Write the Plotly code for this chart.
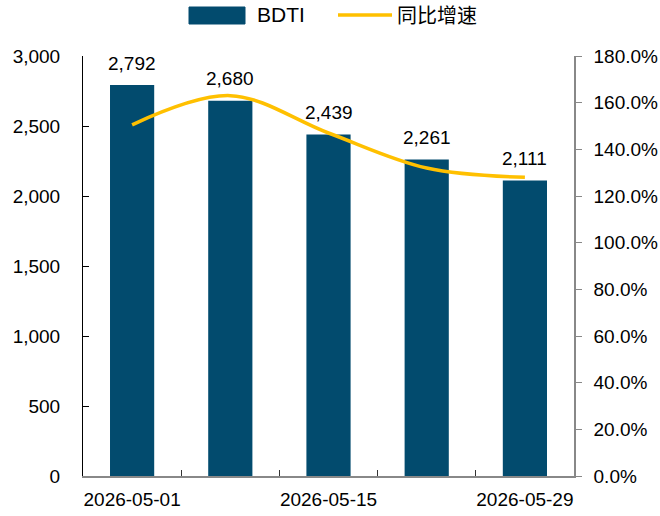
import plotly.graph_objects as go

dates = ['2026-05-01', '2026-05-08', '2026-05-15', '2026-05-22', '2026-05-29']
bdti = [2792, 2680, 2439, 2261, 2111]
yoy = [150.5, 163.0, 147.0, 132.0, 128.0]  # 同比增速, %

xs = list(range(len(dates)))
font = 'Liberation Sans, Arial, sans-serif'
cjk = 'Noto Sans CJK SC, sans-serif'
W, H = 660, 516
L, R, T, B = 83, 86, 56, 40

def px_x(p):
    return (p - L) / (W - L - R)

def px_y(p):
    return 1 - (p - T) / (H - T - B)

fig = go.Figure()
fig.add_trace(go.Bar(
    x=xs, y=bdti, name='BDTI', width=0.45,
    marker=dict(color='#024B6E', line=dict(width=0)),
    showlegend=False,
))
fig.add_trace(go.Scatter(
    x=xs, y=yoy, name='同比增速', yaxis='y2', mode='lines',
    line=dict(color='#FFC000', width=3.5, shape='spline', smoothing=1),
    showlegend=False,
))
# dummy trace so that xaxis3 is drawn
fig.add_trace(go.Scatter(x=[xs[0]], y=[None], xaxis='x3', showlegend=False, hoverinfo='skip'))

# data labels
for x, v in zip(xs, bdti):
    fig.add_annotation(x=x, y=v, text=f'{v:,}', showarrow=False, yshift=22,
                       font=dict(size=19, color='black', family=font))

# custom legend
fig.add_shape(type='rect', xref='paper', yref='paper',
              x0=px_x(189), x1=px_x(245), y0=px_y(24), y1=px_y(7),
              fillcolor='#024B6E', line=dict(color='#024B6E', width=1))
fig.add_annotation(xref='paper', yref='paper', x=px_x(255), y=px_y(15),
                   xanchor='left', yanchor='middle', showarrow=False, text='BDTI',
                   font=dict(size=21, family=font, color='black'))
fig.add_shape(type='line', xref='paper', yref='paper',
              x0=px_x(338), x1=px_x(392), y0=px_y(15), y1=px_y(15),
              line=dict(color='#FFC000', width=3.5))
fig.add_annotation(xref='paper', yref='paper', x=px_x(395), y=px_y(15),
                   xanchor='left', yanchor='middle', showarrow=False, text='同比增速',
                   font=dict(size=20, family=cjk, color='black'))

fig.update_layout(
    width=W, height=H,
    margin=dict(l=L, r=R, t=T, b=B, autoexpand=False),
    plot_bgcolor='white', paper_bgcolor='white',
    font=dict(family=font, size=19, color='black'),
    showlegend=False,
    xaxis=dict(
        range=[-0.5, 4.5], tickmode='array',
        tickvals=[-0.5, 0.5, 1.5, 2.5, 3.5, 4.5], ticktext=['']*6,
        ticks='inside', ticklen=6, tickcolor='#333333',
        showline=True, linecolor='#888888', linewidth=1.5,
        showgrid=False, zeroline=False, automargin=False,
    ),
    xaxis3=dict(
        overlaying='x', side='bottom', range=[-0.5, 4.5], tickmode='array',
        tickvals=xs[::2], ticktext=dates[::2], ticks='',
        showline=False, showgrid=False, zeroline=False, automargin=False,
        ticklabelstandoff=10,
    ),
    yaxis=dict(
        range=[0, 3000], tickvals=[0, 500, 1000, 1500, 2000, 2500, 3000],
        tickformat=',', ticks='inside', ticklen=6, tickcolor='black',
        showline=True, linecolor='black', linewidth=1,
        showgrid=False, zeroline=False, automargin=False,
        ticklabelstandoff=18,
    ),
    yaxis2=dict(
        overlaying='y', side='right', range=[0, 180],
        tickvals=list(range(0, 181, 20)),
        ticktext=[f'{v:.1f}%' for v in range(0, 181, 20)],
        ticks='outside', ticklen=6, tickcolor='#888888',
        showline=True, linecolor='#888888', linewidth=1.5,
        showgrid=False, zeroline=False, automargin=False,
        ticklabelstandoff=8,
    ),
)

fig.write_html('out.html', config={'displayModeBar': False},
               post_script="document.body.style.margin='0';")
